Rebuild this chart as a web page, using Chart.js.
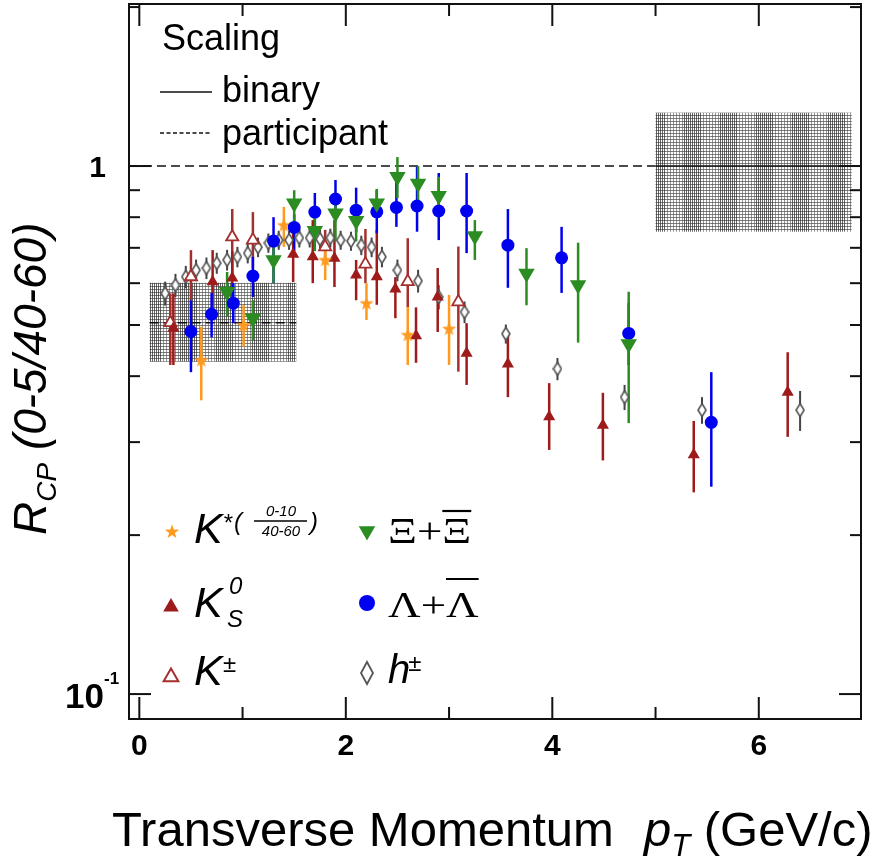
<!DOCTYPE html>
<html><head><meta charset="utf-8">
<script src="https://cdn.jsdelivr.net/npm/chart.js@4.4.1/dist/chart.umd.min.js"></script>
<style>html,body{margin:0;padding:0;background:#fff;}canvas{display:block;}</style>
</head><body>
<canvas id="c" width="881" height="862"></canvas>
<script>
// ---------- data ----------
const kstarX  = [0.60, 1.01, 1.40, 1.80, 2.20, 2.60, 3.00];
const kstarY  = [0.429, 0.500, 0.773, 0.664, 0.550, 0.479, 0.492];
const kstarLo = [0.360, 0.455, 0.703, 0.608, 0.511, 0.420, 0.420];
const kstarHi = [0.496, 0.545, 0.837, 0.724, 0.600, 0.541, 0.570];

const k0sX  = [0.33, 0.71, 0.90, 1.49, 1.68, 1.89, 2.10, 2.30, 2.48, 2.68, 2.89, 3.17, 3.57, 3.97, 4.49, 5.37, 6.28];
const k0sY  = [0.493, 0.604, 0.614, 0.681, 0.673, 0.669, 0.622, 0.617, 0.585, 0.477, 0.565, 0.442, 0.422, 0.335, 0.323, 0.284, 0.373];
const k0sLo = [0.420, 0.527, 0.550, 0.603, 0.600, 0.590, 0.557, 0.546, 0.515, 0.424, 0.485, 0.385, 0.365, 0.290, 0.277, 0.241, 0.307];
const k0sHi = [0.574, 0.693, 0.690, 0.757, 0.790, 0.790, 0.664, 0.757, 0.616, 0.540, 0.641, 0.504, 0.479, 0.388, 0.372, 0.329, 0.444];

const kpmX  = [0.30, 0.50, 0.90, 1.10, 1.80, 2.19, 2.60, 3.09];
const kpmY  = [0.505, 0.617, 0.734, 0.724, 0.703, 0.652, 0.604, 0.553];
const kpmLo = [0.420, 0.557, 0.608, 0.640, 0.650, 0.600, 0.540, 0.408];
const kpmHi = [0.574, 0.693, 0.829, 0.818, 0.757, 0.760, 0.730, 0.704];

const xiX  = [0.85, 1.10, 1.30, 1.50, 1.70, 1.90, 2.10, 2.30, 2.50, 2.70, 2.90, 3.25, 3.75, 4.25, 4.74];
const xiY  = [0.578, 0.515, 0.664, 0.850, 0.754, 0.814, 0.788, 0.850, 0.954, 0.927, 0.878, 0.737, 0.626, 0.595, 0.460];
const xiLo = [0.520, 0.468, 0.600, 0.770, 0.690, 0.720, 0.720, 0.800, 0.870, 0.860, 0.800, 0.664, 0.545, 0.463, 0.326];
const xiHi = [0.630, 0.557, 0.703, 0.900, 0.810, 0.890, 0.850, 0.905, 1.040, 1.000, 0.954, 0.790, 0.699, 0.716, 0.578];

const lamX  = [0.50, 0.70, 0.91, 1.10, 1.30, 1.50, 1.70, 1.90, 2.10, 2.30, 2.49, 2.69, 2.90, 3.17, 3.57, 4.09, 4.74, 5.54];
const lamY  = [0.486, 0.524, 0.550, 0.619, 0.721, 0.765, 0.818, 0.866, 0.825, 0.819, 0.835, 0.840, 0.822, 0.822, 0.708, 0.670, 0.482, 0.327];
const lamLo = [0.407, 0.474, 0.504, 0.565, 0.600, 0.690, 0.751, 0.802, 0.750, 0.746, 0.767, 0.751, 0.724, 0.684, 0.588, 0.575, 0.420, 0.247];
const lamHi = [0.557, 0.575, 0.600, 0.673, 0.800, 0.810, 0.889, 0.941, 0.910, 0.900, 0.934, 0.997, 0.970, 0.970, 0.829, 0.767, 0.550, 0.407];

const hX   = [0.25, 0.35, 0.45, 0.55, 0.65, 0.75, 0.85, 0.95, 1.05, 1.15, 1.25, 1.35, 1.45, 1.55, 1.65, 1.75, 1.85, 1.95, 2.05, 2.15, 2.25, 2.35, 2.50, 2.70, 2.90, 3.15, 3.55, 4.05, 4.70, 5.45, 6.40];
const hY   = [0.574, 0.595, 0.617, 0.635, 0.641, 0.655, 0.664, 0.673, 0.684, 0.702, 0.715, 0.724, 0.724, 0.731, 0.731, 0.727, 0.731, 0.724, 0.721, 0.708, 0.702, 0.673, 0.635, 0.606, 0.565, 0.529, 0.481, 0.413, 0.365, 0.345, 0.345];
const hErr = [0.030, 0.030, 0.030, 0.030, 0.030, 0.030, 0.030, 0.030, 0.030, 0.030, 0.030, 0.030, 0.030, 0.030, 0.030, 0.030, 0.030, 0.030, 0.030, 0.030, 0.030, 0.030, 0.030, 0.030, 0.030, 0.025, 0.020, 0.020, 0.020, 0.020, 0.030];

// scaling uncertainty boxes: [xmin, xmax, ylow, yhigh, centre]
const binaryBox      = [5.00, 6.90, 0.751, 1.262, 1.000];
const participantBox = [0.10, 1.52, 0.426, 0.601, 0.505];

const xMajorTicks = [0, 2, 4, 6];
const xMinorTicks = [1, 3, 5];
const yMajorTicks = [0.1, 1];
const yMinorTicks = [0.2, 0.3, 0.4, 0.5, 0.6, 0.7, 0.8, 0.9, 2];
const xTickLabels = ['0', '2', '4', '6'];

// ---------- styles ----------
const C_STAR = '#FF9A1E', C_K0 = '#9E1B1B', C_KPM = '#A3302E', C_XI = '#2B8C22', C_LAM = '#0000F0', C_H = '#555555';
const SANS = "'Liberation Sans', Arial, Helvetica, sans-serif";
const SERIF = "'Liberation Serif', 'DejaVu Serif', serif";

function starPath(g, cx, cy, R, r) {
  g.beginPath();
  for (let i = 0; i < 10; i++) {
    const a = -Math.PI / 2 + i * Math.PI / 5;
    const rr = i % 2 ? r : R;
    const px = cx + rr * Math.cos(a), py = cy + rr * Math.sin(a);
    i ? g.lineTo(px, py) : g.moveTo(px, py);
  }
  g.closePath();
}
function makeStar(size) {
  const c = document.createElement('canvas'); c.width = size; c.height = size;
  const g = c.getContext('2d');
  starPath(g, size / 2, size / 2 + 0.5, size / 2, size / 5);
  g.fillStyle = C_STAR; g.fill();
  return c;
}
function diamondPath(g, cx, cy, w, h) {
  g.beginPath(); g.moveTo(cx, cy - h / 2); g.lineTo(cx + w / 2, cy); g.lineTo(cx, cy + h / 2); g.lineTo(cx - w / 2, cy); g.closePath();
}
function makeDiamond(w, h) {
  const c = document.createElement('canvas'); c.width = w + 2; c.height = h + 2;
  const g = c.getContext('2d');
  diamondPath(g, c.width / 2, c.height / 2, w, h);
  g.fillStyle = '#fff'; g.fill(); g.strokeStyle = C_H; g.lineWidth = 1.6; g.stroke();
  return c;
}
function makeHatch() {
  const c = document.createElement('canvas'); c.width = 36; c.height = 3;
  const g = c.getContext('2d');
  g.fillStyle = 'rgba(60,60,60,0.65)';
  g.fillRect(0, 1, 36, 1);
  for (let x = 0; x < 18; x += 2) { g.fillStyle = 'rgba(50,50,50,0.75)'; g.fillRect(x, 0, 1, 3); }
  for (let x = 19; x < 36; x += 3) { g.fillStyle = 'rgba(80,80,80,0.6)'; g.fillRect(x, 0, 1, 3); }
  return c;
}

const pts = (xs, ys) => xs.map((v, i) => ({ x: v, y: ys[i] }));

const errorSets = [
  { xs: hX,    lo: hY.map((v, i) => v - hErr[i]), hi: hY.map((v, i) => v + hErr[i]), color: '#444', lw: 2 },
  { xs: kpmX,  lo: kpmLo,  hi: kpmHi,  color: C_KPM, lw: 2.5 },
  { xs: k0sX,  lo: k0sLo,  hi: k0sHi,  color: C_K0, lw: 2.5 },
  { xs: kstarX,lo: kstarLo,hi: kstarHi,color: C_STAR, lw: 2.5 },
  { xs: lamX,  lo: lamLo,  hi: lamHi,  color: C_LAM, lw: 2.5 },
  { xs: xiX,   lo: xiLo,   hi: xiHi,   color: C_XI, lw: 2.5 },
];

function line(ctx, x1, y1, x2, y2) { ctx.beginPath(); ctx.moveTo(x1, y1); ctx.lineTo(x2, y2); ctx.stroke(); }
function txt(ctx, s, x, y, font, align) {
  ctx.font = font; ctx.textAlign = align || 'left'; ctx.textBaseline = 'alphabetic'; ctx.fillStyle = '#000';
  ctx.fillText(s, x, y); return ctx.measureText(s).width;
}
function wtxt(ctx, s, x, y, font, k) {
  ctx.save(); ctx.translate(x, y); ctx.scale(k, 1);
  const w = txt(ctx, s, 0, 0, font); ctx.restore(); return w * k;
}

const decor = {
  id: 'decor',
  beforeDatasetsDraw(chart) {
    const { ctx, chartArea: a, scales: { x, y } } = chart;
    ctx.save();
    ctx.beginPath(); ctx.rect(a.left, a.top, a.right - a.left, a.bottom - a.top); ctx.clip();
    const pat = ctx.createPattern(makeHatch(), 'repeat');
    [binaryBox, participantBox].forEach(b => {
      const x0 = x.getPixelForValue(b[0]), x1 = x.getPixelForValue(b[1]);
      const y0 = y.getPixelForValue(b[3]), y1 = y.getPixelForValue(b[2]);
      ctx.fillStyle = pat; ctx.fillRect(x0, y0, x1 - x0, y1 - y0);
    });
    ctx.strokeStyle = '#111'; ctx.lineWidth = 1.5;
    const y1p = y.getPixelForValue(binaryBox[4]);
    ctx.setLineDash([9, 5]);
    line(ctx, a.left, y1p, x.getPixelForValue(binaryBox[0]), y1p);
    const ypp = y.getPixelForValue(participantBox[4]);
    line(ctx, x.getPixelForValue(participantBox[0]), ypp, x.getPixelForValue(participantBox[1]), ypp);
    ctx.setLineDash([]);
    line(ctx, x.getPixelForValue(binaryBox[0]), y1p, a.right, y1p);
    errorSets.forEach(s => {
      ctx.strokeStyle = s.color; ctx.lineWidth = s.lw;
      s.xs.forEach((xv, i) => {
        const px = x.getPixelForValue(xv);
        line(ctx, px, y.getPixelForValue(s.lo[i]), px, y.getPixelForValue(s.hi[i]));
      });
    });
    ctx.restore();
  },
  afterDraw(chart) {
    const { ctx, chartArea: a, scales: { x, y } } = chart;
    ctx.save();
    ctx.strokeStyle = '#111'; ctx.lineWidth = 2;
    ctx.strokeRect(a.left, a.top, a.right - a.left, a.bottom - a.top);
    xMajorTicks.forEach(v => { const p = x.getPixelForValue(v); line(ctx, p, a.bottom, p, a.bottom - 22); line(ctx, p, a.top, p, a.top + 22); });
    xMinorTicks.forEach(v => { const p = x.getPixelForValue(v); line(ctx, p, a.bottom, p, a.bottom - 12); line(ctx, p, a.top, p, a.top + 12); });
    yMajorTicks.forEach(v => { const p = y.getPixelForValue(v); line(ctx, a.left, p, a.left + 22, p); line(ctx, a.right, p, a.right - 22, p); });
    yMinorTicks.forEach(v => { const p = y.getPixelForValue(v); if (p < a.top + 1) return; line(ctx, a.left, p, a.left + 11, p); line(ctx, a.right, p, a.right - 11, p); });

    const p1 = y.getPixelForValue(yMajorTicks[1]);
    txt(ctx, '1', 106, p1 + 11, "bold 30px " + SANS, 'right');
    const p01 = y.getPixelForValue(yMajorTicks[0]);
    txt(ctx, '10', 104, p01 + 14, "bold 35px " + SANS, 'right');
    txt(ctx, '-1', 104, p01 - 10, "bold 17px " + SANS, 'left');

    const XT = "49px " + SANS, XTI = "italic 49px " + SANS, XTS = "italic 31px " + SANS;
    let cx = 112; const by = 846;
    cx += txt(ctx, 'Transverse Momentum', cx, by, XT);
    cx += 30;
    cx += txt(ctx, 'p', cx, by, XTI);
    cx += txt(ctx, 'T', cx, by + 10, XTS);
    txt(ctx, ' (GeV/c)', cx, by, XT);

    ctx.save();
    ctx.translate(46, 535); ctx.rotate(-Math.PI / 2);
    let ry = 0;
    ry += txt(ctx, 'R', ry, 0, "italic 46px " + SANS);
    ry += txt(ctx, 'CP', ry, 10, "italic 28px " + SANS);
    txt(ctx, ' (0-5/40-60)', ry, 0, "italic 46px " + SANS);
    ctx.restore();

    txt(ctx, 'Scaling', 162, 50, "36px " + SANS);
    ctx.strokeStyle = '#111'; ctx.lineWidth = 1.5;
    line(ctx, 160, 92, 212, 92);
    txt(ctx, 'binary', 222, 102, "36px " + SANS);
    ctx.setLineDash([4, 2.5]);
    line(ctx, 160, 133, 212, 133);
    ctx.setLineDash([]);
    txt(ctx, 'participant', 222, 145, "36px " + SANS);

    starPath(ctx, 172, 532, 7.5, 3); ctx.fillStyle = C_STAR; ctx.fill();
    const tri = (cx0, cy0, r, up, fill, stroke) => {
      ctx.beginPath();
      const s = up ? 1 : -1;
      ctx.moveTo(cx0, cy0 - s * r); ctx.lineTo(cx0 + r * 0.866, cy0 + s * r / 2); ctx.lineTo(cx0 - r * 0.866, cy0 + s * r / 2); ctx.closePath();
      if (fill) { ctx.fillStyle = fill; ctx.fill(); }
      if (stroke) { ctx.strokeStyle = stroke; ctx.lineWidth = 2; ctx.stroke(); }
    };
    tri(171, 607, 9, true, C_K0, null);
    tri(171, 677, 8.5, true, '#fff', C_KPM);
    tri(367, 531, 9.5, false, C_XI, null);
    ctx.beginPath(); ctx.arc(367, 603, 8, 0, 2 * Math.PI); ctx.fillStyle = C_LAM; ctx.fill();
    diamondPath(ctx, 367, 673, 12, 22); ctx.fillStyle = '#fff'; ctx.fill(); ctx.strokeStyle = C_H; ctx.lineWidth = 1.8; ctx.stroke();

    const KI = "italic 43px " + SANS, SM = "italic 24px " + SANS, FR = "italic 15px " + SANS;
    let w = txt(ctx, 'K', 194, 543, KI);
    txt(ctx, '*', 194 + w, 531, SM);
    txt(ctx, '(', 234, 530, SM);
    txt(ctx, '0-10', 281, 516, FR, 'center');
    ctx.strokeStyle = '#000'; ctx.lineWidth = 1.3; line(ctx, 254, 521, 307, 521);
    txt(ctx, '40-60', 281, 536, FR, 'center');
    txt(ctx, ')', 310, 530, SM);

    txt(ctx, 'K', 194, 617, KI);
    txt(ctx, '0', 229, 594, SM);
    txt(ctx, 'S', 227, 627, SM);

    txt(ctx, 'K', 194, 685, KI);
    txt(ctx, '\u00B1', 223, 672, "24px " + SANS);

    const GR = "36px " + SERIF, K = 1.25;
    let gx = 388;
    gx += wtxt(ctx, '\u039E', gx, 543, GR, K);
    gx += wtxt(ctx, '+', gx, 543, GR, K);
    let g0 = gx; gx += wtxt(ctx, '\u039E', gx, 543, GR, K);
    ctx.strokeStyle = '#000'; ctx.lineWidth = 2.2; line(ctx, g0, 511, gx, 511);

    gx = 388;
    gx += wtxt(ctx, '\u039B', gx, 617, GR, K);
    gx += wtxt(ctx, '+', gx, 617, GR, K);
    g0 = gx; gx += wtxt(ctx, '\u039B', gx, 617, GR, K);
    line(ctx, g0, 579, gx, 579);

    w = txt(ctx, 'h', 388, 683, "italic 40px " + SANS);
    txt(ctx, '\u00B1', 388 + w - 2, 671, "24px " + SANS);
    ctx.restore();
  }
};

new Chart(document.getElementById('c'), {
  type: 'scatter',
  data: {
    datasets: [
      { label: 'Xi', data: pts(xiX, xiY), pointStyle: 'triangle', rotation: 180, radius: 9.5, backgroundColor: C_XI, borderColor: C_XI, borderWidth: 0 },
      { label: 'Lambda', data: pts(lamX, lamY), pointStyle: 'circle', radius: 6.5, backgroundColor: C_LAM, borderColor: C_LAM, borderWidth: 0 },
      { label: 'Kstar', data: pts(kstarX, kstarY), pointStyle: makeStar(15), backgroundColor: C_STAR, borderColor: C_STAR },
      { label: 'K0s', data: pts(k0sX, k0sY), pointStyle: 'triangle', radius: 7, backgroundColor: C_K0, borderColor: C_K0, borderWidth: 0 },
      { label: 'Kpm', data: pts(kpmX, kpmY), pointStyle: 'triangle', radius: 7, backgroundColor: '#fff', borderColor: C_KPM, borderWidth: 1.8 },
      { label: 'h', data: pts(hX, hY), pointStyle: makeDiamond(8, 13), backgroundColor: '#fff', borderColor: C_H },
    ]
  },
  options: {
    responsive: false, animation: false, devicePixelRatio: 1,
    layout: { autoPadding: false, padding: { left: 0, right: 20, top: 4, bottom: 0 } },
    plugins: { legend: { display: false }, tooltip: { enabled: false } },
    scales: {
      x: {
        type: 'linear', min: -0.1, max: 6.99,
        afterBuildTicks: (s) => { s.ticks = xMajorTicks.map(v => ({ value: v })); },
        afterFit: (s) => { s.height = 143; s.paddingLeft = 0; s.paddingRight = 0; s.paddingTop = 0; s.paddingBottom = 0; },
        grid: { display: false, drawTicks: false }, border: { display: false },
        ticks: {
          autoSkip: false, maxRotation: 0, padding: 10, color: '#000',
          font: { family: SANS, size: 30, weight: 'bold' },
          callback: (v) => xTickLabels[xMajorTicks.indexOf(v)] ?? ''
        }
      },
      y: {
        type: 'logarithmic', min: 0.0897, max: 2.027,
        afterBuildTicks: (s) => { s.ticks = yMajorTicks.concat(yMinorTicks).map(v => ({ value: v })); },
        afterFit: (s) => { s.width = 129; s.paddingTop = 0; s.paddingBottom = 0; s.paddingLeft = 0; s.paddingRight = 0; },
        grid: { display: false, drawTicks: false }, border: { display: false },
        ticks: { display: false }
      }
    }
  },
  plugins: [decor]
});
</script>
</body></html>
